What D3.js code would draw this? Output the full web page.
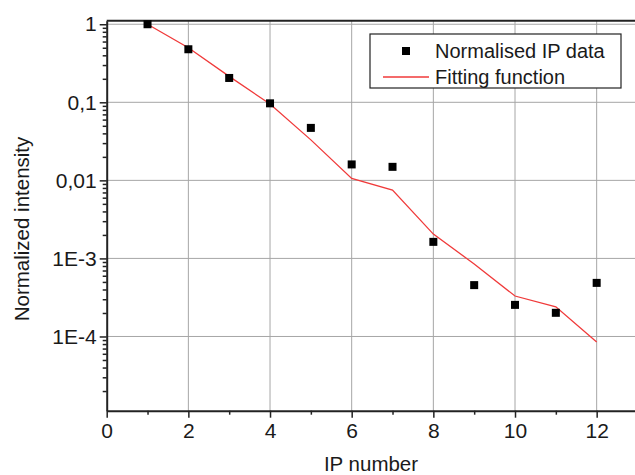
<!DOCTYPE html>
<html>
<head>
<meta charset="utf-8">
<script src="https://cdn.jsdelivr.net/npm/d3@7"></script>
<style>
  body { margin: 0; background: #fff; overflow: hidden; }
  text { font-family: Arial, "Liberation Sans", sans-serif; fill: #1a1a1a; }
</style>
</head>
<body>
<div id="chart"></div>
<script>
const width = 635,
  height = 475;

// data
const ipNumber = [1, 2, 3, 4, 5, 6, 7, 8, 9, 10, 11, 12];
const ipData = [1.0, 0.478, 0.205, 0.097, 0.047, 0.016, 0.0149, 0.00163, 0.000455, 0.000254, 0.000201, 0.000486];
const fitValues = [1.0, 0.5, 0.215, 0.095, 0.033, 0.0106, 0.0075, 0.00205, 0.00085, 0.00033, 0.00024, 0.000085];

const xTicks = [0, 2, 4, 6, 8, 10, 12];
const xMinor = [1, 3, 5, 7, 9, 11];
const yTicks = [1, 0.1, 0.01, 0.001, 0.0001];
const yTickLabels = ["1", "0,1", "0,01", "1E-3", "1E-4"];
const legendLabels = ["Normalised IP data", "Fitting function"];

const x = d3.scaleLinear()
  .domain([0, 13])
  .range([106.7, 637.5]);

const y = d3.scaleLog()
  .domain([1.12e-5, 1.11])
  .range([410.7, 20.7]);

const svg = d3.select("#chart")
  .append("svg")
  .attr("width", width)
  .attr("height", height)
  .style("display", "block");

// grid lines
svg.append("g")
  .selectAll("line")
  .data(xTicks.filter(d => d > 0))
  .join("line")
  .attr("x1", d => x(d)).attr("x2", d => x(d))
  .attr("y1", y.range()[0]).attr("y2", y.range()[1])
  .attr("stroke", "#a6a6a6")
  .attr("stroke-width", 1);

svg.append("g")
  .selectAll("line")
  .data(yTicks)
  .join("line")
  .attr("x1", x.range()[0]).attr("x2", x.range()[1])
  .attr("y1", d => y(d)).attr("y2", d => y(d))
  .attr("stroke", "#a6a6a6")
  .attr("stroke-width", 1);

// x axis
const xAxis = svg.append("g")
  .attr("transform", `translate(0,${y.range()[0]})`)
  .call(d3.axisBottom(x).tickValues(xTicks).tickSize(7).tickSizeOuter(0).tickPadding(5).tickFormat(d3.format("d")));

svg.append("g")
  .attr("transform", `translate(0,${y.range()[0]})`)
  .call(d3.axisBottom(x).tickValues(xMinor).tickSize(4).tickFormat(""))
  .call(g => g.select(".domain").remove());

// y axis, minor ticks 2..9 per decade
const yMinor = [];
for (let e = -5; e <= 0; e++) {
  for (let m = 2; m <= 9; m++) {
    const v = m * Math.pow(10, e);
    if (v >= y.domain()[0] && v <= y.domain()[1]) yMinor.push(v);
  }
}

svg.append("g")
  .attr("transform", `translate(${x.range()[0]},0)`)
  .call(d3.axisLeft(y).tickValues(yMinor).tickSize(4).tickFormat(""))
  .call(g => g.select(".domain").remove());

const yAxis = svg.append("g")
  .attr("transform", `translate(${x.range()[0]},0)`)
  .call(d3.axisLeft(y).tickValues(yTicks).tickSize(7).tickSizeOuter(0).tickPadding(3)
    .tickFormat((d, i) => yTickLabels[i]));

[xAxis, yAxis].forEach(g => {
  g.selectAll("text").style("font-size", "21px").attr("fill", "#1a1a1a");
  g.select(".domain").attr("stroke", "#222").attr("stroke-width", 2);
});
svg.selectAll(".tick line").attr("stroke", "#222").attr("stroke-width", 1.5);

// top frame (right edge falls outside the picture)
svg.append("line")
  .attr("x1", x.range()[0]).attr("x2", x.range()[1])
  .attr("y1", y.range()[1]).attr("y2", y.range()[1])
  .attr("stroke", "#222").attr("stroke-width", 2);

// fitting function
const line = d3.line()
  .x((d, i) => x(ipNumber[i]))
  .y(d => y(d));

svg.append("path")
  .datum(fitValues)
  .attr("fill", "none")
  .attr("stroke", "#f03a3a")
  .attr("stroke-width", 1.3)
  .attr("d", line);

// data points
svg.append("g")
  .selectAll("rect")
  .data(ipData)
  .join("rect")
  .attr("x", (d, i) => x(ipNumber[i]) - 4)
  .attr("y", d => y(d) - 4)
  .attr("width", 8)
  .attr("height", 8)
  .attr("fill", "#000");

// axis titles
svg.append("text")
  .attr("x", 371)
  .attr("y", 471)
  .attr("text-anchor", "middle")
  .style("font-size", "20.5px")
  .text("IP number");

svg.append("text")
  .attr("transform", "translate(29,229) rotate(-90)")
  .attr("text-anchor", "middle")
  .style("font-size", "20.5px")
  .text("Normalized intensity");

// legend
const legend = svg.append("g");
legend.append("rect")
  .attr("x", 370).attr("y", 34)
  .attr("width", 251).attr("height", 54)
  .attr("fill", "#fff")
  .attr("stroke", "#222")
  .attr("stroke-width", 1.2);

legend.append("rect")
  .attr("x", 402).attr("y", 47)
  .attr("width", 8).attr("height", 8)
  .attr("fill", "#000");

legend.append("line")
  .attr("x1", 383).attr("x2", 429)
  .attr("y1", 77).attr("y2", 77)
  .attr("stroke", "#f03a3a")
  .attr("stroke-width", 1.3);

legend.selectAll("text")
  .data(legendLabels)
  .join("text")
  .attr("x", 435)
  .attr("y", (d, i) => 58 + i * 26)
  .style("font-size", "20px")
  .text(d => d);
</script>
</body>
</html>
